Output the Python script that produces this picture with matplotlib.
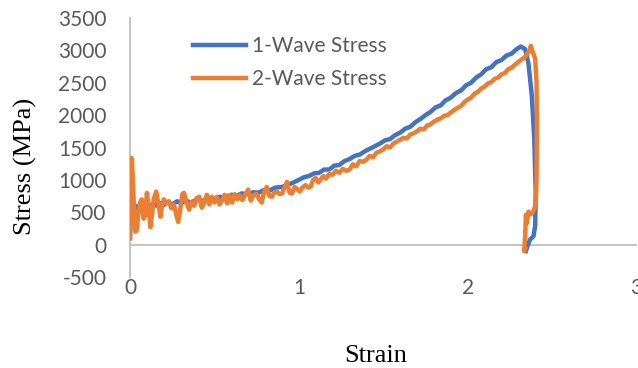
import numpy as np
import matplotlib
matplotlib.use("Agg")
import matplotlib.pyplot as plt

plt.rcParams["axes.unicode_minus"] = False

# -----------------------------
# Data
# -----------------------------
strain_1 = [0.000, 0.005, 0.012, 0.020, 0.030, 0.045, 0.060, 0.080, 0.100, 0.120,
            0.140, 0.160, 0.180, 0.200, 0.220, 0.250, 0.280, 0.300, 0.330, 0.360,
            0.400, 0.430, 0.460, 0.500, 0.530, 0.560, 0.600, 0.630, 0.660, 0.700,
            0.730, 0.760, 0.800, 0.830, 0.860, 0.900, 0.930, 0.960, 1.000, 1.030,
            1.060, 1.090, 1.120, 1.150, 1.180, 1.210, 1.240, 1.270, 1.300, 1.330,
            1.360, 1.390, 1.420, 1.450, 1.480, 1.510, 1.540, 1.570, 1.600, 1.630,
            1.660, 1.690, 1.720, 1.750, 1.780, 1.810, 1.840, 1.870, 1.900, 1.930,
            1.960, 1.990, 2.020, 2.050, 2.080, 2.110, 2.140, 2.170, 2.200, 2.230,
            2.260, 2.290, 2.315, 2.340, 2.360, 2.380, 2.395, 2.403, 2.400, 2.390,
            2.370, 2.355, 2.345]
stress_1 = [100, 450, 620, 530, 600, 560, 630, 580, 640, 590,
            650, 600, 640, 610, 660, 620, 670, 640, 680, 650,
            700, 670, 720, 700, 740, 720, 770, 750, 790, 780,
            810, 800, 850, 840, 880, 890, 920, 950, 1000, 1040,
            1060, 1100, 1110, 1160, 1160, 1220, 1230, 1290, 1320, 1370,
            1390, 1440, 1480, 1520, 1560, 1610, 1630, 1690, 1730, 1790,
            1820, 1890, 1940, 2000, 2050, 2120, 2150, 2230, 2270, 2340,
            2380, 2460, 2500, 2580, 2630, 2710, 2740, 2820, 2850, 2920,
            2950, 3020, 3060, 3020, 2800, 2300, 1600, 800, 300, 130,
            80, -20, -100]

strain_2 = [0.000, 0.004, 0.008, 0.012, 0.018, 0.025, 0.032, 0.040, 0.050, 0.060,
            0.070, 0.080, 0.090, 0.100, 0.110, 0.120, 0.130, 0.140, 0.155, 0.170,
            0.180, 0.190, 0.200, 0.215, 0.230, 0.245, 0.260, 0.275, 0.285, 0.295,
            0.310, 0.320, 0.335, 0.350, 0.365, 0.380, 0.395, 0.410, 0.425, 0.440,
            0.455, 0.470, 0.485, 0.500, 0.515, 0.530, 0.545, 0.560, 0.575, 0.590,
            0.605, 0.620, 0.635, 0.650, 0.665, 0.680, 0.700, 0.715, 0.730, 0.750,
            0.765, 0.780, 0.795, 0.810, 0.825, 0.840, 0.855, 0.870, 0.885, 0.900,
            0.915, 0.930, 0.945, 0.960, 0.975, 0.990, 1.005, 1.020, 1.040, 1.055,
            1.070, 1.085, 1.100, 1.115, 1.130, 1.145, 1.160, 1.180, 1.200, 1.220,
            1.240, 1.260, 1.280, 1.300, 1.320, 1.340, 1.360, 1.380, 1.400, 1.420,
            1.440, 1.460, 1.480, 1.500, 1.520, 1.540, 1.560, 1.580, 1.600, 1.620,
            1.640, 1.660, 1.680, 1.700, 1.720, 1.740, 1.760, 1.780, 1.800, 1.820,
            1.840, 1.860, 1.880, 1.900, 1.920, 1.940, 1.960, 1.980, 2.000, 2.020,
            2.040, 2.060, 2.080, 2.100, 2.120, 2.140, 2.160, 2.180, 2.200, 2.220,
            2.240, 2.260, 2.280, 2.300, 2.320, 2.340, 2.355, 2.365, 2.374, 2.385,
            2.400, 2.408, 2.410, 2.408, 2.403, 2.390, 2.375, 2.360, 2.350, 2.345,
            2.340, 2.335, 2.340]
stress_2 = [100, 700, 1340, 1300, 900, 500, 200, 220, 500, 650,
            700, 400, 450, 800, 600, 270, 450, 700, 820, 600,
            430, 600, 700, 640, 670, 560, 620, 450, 350, 500,
            780, 800, 650, 540, 660, 600, 720, 740, 570, 650,
            770, 620, 740, 650, 740, 620, 680, 770, 640, 760,
            650, 780, 700, 760, 690, 760, 850, 680, 760, 780,
            700, 650, 820, 890, 750, 740, 810, 820, 780, 790,
            880, 970, 800, 790, 890, 860, 820, 880, 920, 880,
            900, 1000, 1030, 960, 1010, 1060, 1020, 1090, 1080, 1140,
            1110, 1170, 1140, 1160, 1240, 1210, 1290, 1280, 1310, 1370,
            1350, 1420, 1440, 1470, 1520, 1500, 1560, 1590, 1620, 1650,
            1640, 1700, 1720, 1750, 1790, 1780, 1840, 1860, 1900, 1930,
            1950, 1990, 2000, 2040, 2080, 2110, 2140, 2200, 2240, 2270,
            2330, 2360, 2410, 2440, 2490, 2510, 2560, 2580, 2630, 2650,
            2710, 2730, 2780, 2820, 2860, 2900, 2960, 2990, 3070, 2980,
            2870, 2500, 1800, 1000, 620, 520, 470, 510, 330, 460,
            120, -100, -60]

series_labels = ["1-Wave Stress", "2-Wave Stress"]
y_ticks = [-500, 0, 500, 1000, 1500, 2000, 2500, 3000, 3500]
x_ticks = [0, 1, 2, 3]

blue = "#4472C4"
orange = "#ED7D31"
grid_grey = "#BFBFBF"
text_grey = "#595959"

fig = plt.figure(figsize=(6.38, 3.68), dpi=100)
ax = fig.add_axes([130 / 638, 1 - 277 / 368, 506.5 / 638, 259 / 368])

ax.plot(strain_1, stress_1, color=blue, lw=3.2, label=series_labels[0],
        solid_joinstyle="round", zorder=3)
ax.plot(strain_2, stress_2, color=orange, lw=3.2, label=series_labels[1],
        solid_joinstyle="round", zorder=4)

ax.set_xlim(0, 3)
ax.set_ylim(-500, 3500)
ax.set_xticks(x_ticks)
ax.set_yticks(y_ticks)

for s in ["top", "right", "bottom"]:
    ax.spines[s].set_visible(False)
ax.spines["left"].set_color(grid_grey)
ax.spines["left"].set_linewidth(1.3)
ax.axhline(0, color=grid_grey, lw=1.3, zorder=1)

ax.tick_params(length=0, labelsize=15, colors=text_grey)
ax.tick_params(axis="y", pad=17)
ax.tick_params(axis="x", pad=1)
for t in ax.get_xticklabels() + ax.get_yticklabels():
    t.set_fontfamily("Lato")
    t.set_color(text_grey)

leg = ax.legend(loc="upper left", bbox_to_anchor=(193 / 638, 1 - 36 / 368),
                bbox_transform=fig.transFigure, frameon=False,
                prop={"family": "Lato", "size": 15}, handlelength=2.55,
                handletextpad=0.3, labelspacing=0.62, borderpad=0,
                borderaxespad=0)
for txt in leg.get_texts():
    txt.set_color(text_grey)

fig.text(25 / 638, 1 - 166 / 368, "Stress (MPa)", rotation=90, ha="center",
         va="center", family="Liberation Serif", fontsize=19)
fig.text(376 / 638, 1 - 356 / 368, "Strain", ha="center", va="center",
         family="Liberation Serif", fontsize=19)

fig.savefig("out.png", dpi=100)
